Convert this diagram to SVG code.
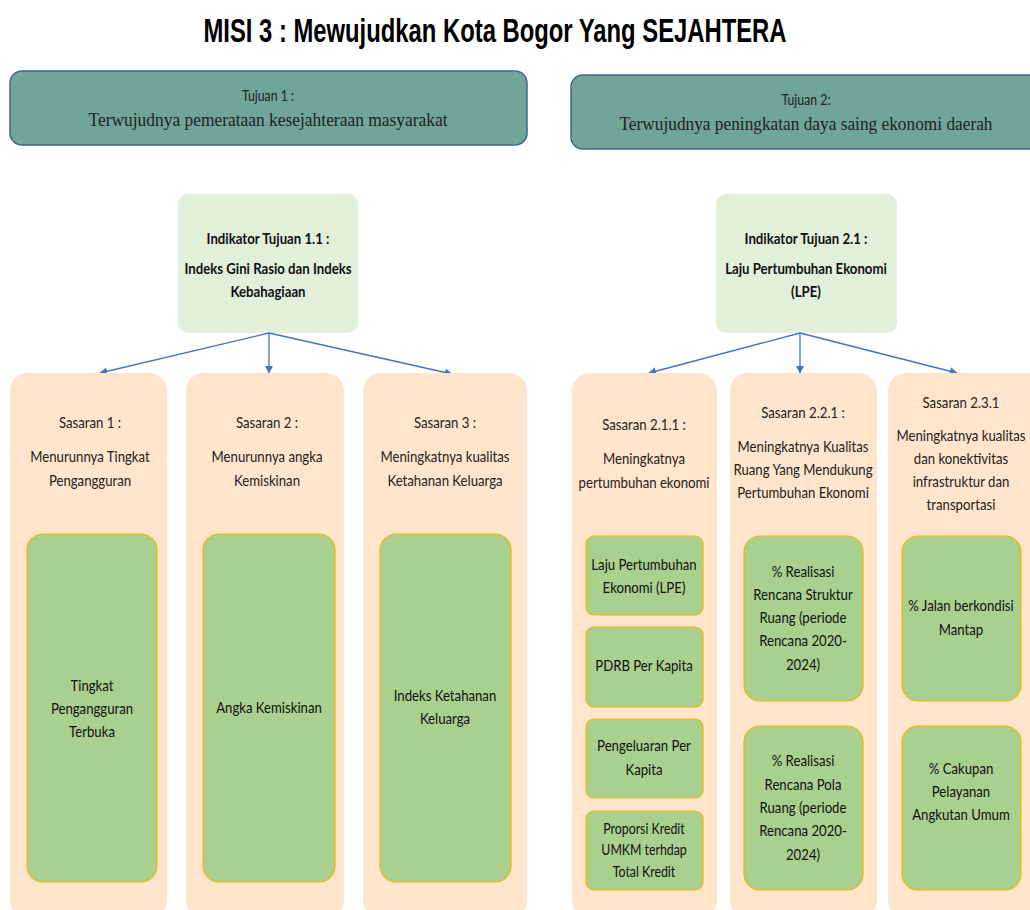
<svg xmlns="http://www.w3.org/2000/svg" width="1030" height="910" viewBox="0 0 1030 910">
  <defs>
    <marker id="arr" viewBox="0 0 10 10" refX="9" refY="5" markerWidth="8" markerHeight="8" orient="auto-start-reverse" markerUnits="userSpaceOnUse">
      <path d="M0,0 L10,5 L0,10 z" fill="#4472c4"/>
    </marker>
    <style>
      .title { font-family: "Liberation Sans", Arial, sans-serif; font-weight: bold; font-size: 33px; fill: #000; }
      .goal { fill: #70a598; stroke: #41648a; stroke-width: 1.5; }
      .goal-h { font-family: "Lato", "Liberation Sans", sans-serif; font-size: 15px; fill: #222; }
      .goal-t { font-family: "Liberation Serif", serif; font-size: 18px; fill: #222; }
      .ind { fill: #e2efd9; }
      .ind-t { font-family: "Lato", "Liberation Sans", sans-serif; font-weight: bold; font-size: 15px; fill: #111; }
      .tgt { fill: #fee5cb; }
      .tgt-t { font-family: "Lato", "Liberation Sans", sans-serif; font-size: 15.5px; fill: #222; }
      .kpi { fill: #a9d08e; stroke: #f2b705; stroke-width: 1.2; }
      .kpi-t { font-family: "Lato", "Liberation Sans", sans-serif; font-size: 15.5px; fill: #111; }
      .conn { stroke: #4472c4; stroke-width: 1.3; fill: none; marker-end: url(#arr); }
      text { text-anchor: middle; }
    </style>
  </defs>

  <rect width="1030" height="910" fill="#ffffff"/>

  <text class="title" x="495" y="42" textLength="583" lengthAdjust="spacingAndGlyphs">MISI 3 : Mewujudkan Kota Bogor Yang SEJAHTERA</text>

  <!-- goals -->
  <g id="tujuan1">
    <rect class="goal" x="10" y="71" width="517" height="74" rx="12"/>
    <g transform="translate(268 0) scale(0.82 1)">
      <text class="goal-h" x="0" y="101">Tujuan 1 :</text>
    </g>
    <text class="goal-t" x="268" y="126" textLength="359" lengthAdjust="spacingAndGlyphs">Terwujudnya pemerataan kesejahteraan masyarakat</text>
  </g>
  <g id="tujuan2">
    <rect class="goal" x="571" y="75" width="480" height="74" rx="12"/>
    <g transform="translate(806 0) scale(0.82 1)">
      <text class="goal-h" x="0" y="105">Tujuan 2:</text>
    </g>
    <text class="goal-t" x="806" y="130" textLength="373" lengthAdjust="spacingAndGlyphs">Terwujudnya peningkatan daya saing ekonomi daerah</text>
  </g>

  <!-- goal indicators -->
  <g id="indikator11">
    <rect class="ind" x="178" y="194" width="180" height="139" rx="10"/>
    <g transform="translate(268 0) scale(0.88 1)">
      <text class="ind-t" x="0" y="244">Indikator Tujuan  1.1 :</text>
      <text class="ind-t" x="0" y="274">Indeks Gini Rasio dan Indeks</text>
      <text class="ind-t" x="0" y="297">Kebahagiaan</text>
    </g>
  </g>
  <g id="indikator21">
    <rect class="ind" x="716" y="194" width="181" height="139" rx="10"/>
    <g transform="translate(806 0) scale(0.88 1)">
      <text class="ind-t" x="0" y="244">Indikator Tujuan  2.1 :</text>
      <text class="ind-t" x="0" y="274">Laju Pertumbuhan Ekonomi</text>
      <text class="ind-t" x="0" y="297">(LPE)</text>
    </g>
  </g>

  <!-- connectors -->
  <g id="connectors">
    <path class="conn" d="M269,333 L100,373"/>
    <path class="conn" d="M269,333 L269,373"/>
    <path class="conn" d="M269,333 L452,374"/>
    <path class="conn" d="M800,333 L649,373"/>
    <path class="conn" d="M800,333 L800,373"/>
    <path class="conn" d="M800,333 L957,373"/>
  </g>

  <!-- targets, goal 1 -->
  <g id="sasaran1">
    <rect class="tgt" x="10" y="373" width="157" height="545" rx="18"/>
    <rect class="kpi" x="27" y="534" width="130" height="348" rx="16"/>
    <g transform="translate(90 0) scale(0.85 1)">
      <text class="tgt-t" x="0" y="428">Sasaran 1 :</text>
      <text class="tgt-t" x="0" y="462">Menurunnya Tingkat</text>
      <text class="tgt-t" x="0" y="486">Pengangguran</text>
    </g>
    <g transform="translate(92 0) scale(0.85 1)">
      <text class="kpi-t" x="0" y="691">Tingkat</text>
      <text class="kpi-t" x="0" y="714">Pengangguran</text>
      <text class="kpi-t" x="0" y="737">Terbuka</text>
    </g>
  </g>
  <g id="sasaran2">
    <rect class="tgt" x="186" y="373" width="158" height="545" rx="18"/>
    <rect class="kpi" x="203" y="534" width="132" height="348" rx="16"/>
    <g transform="translate(267 0) scale(0.85 1)">
      <text class="tgt-t" x="0" y="428">Sasaran 2 :</text>
      <text class="tgt-t" x="0" y="462">Menurunnya angka</text>
      <text class="tgt-t" x="0" y="486">Kemiskinan</text>
    </g>
    <g transform="translate(269 0) scale(0.85 1)">
      <text class="kpi-t" x="0" y="713">Angka Kemiskinan</text>
    </g>
  </g>
  <g id="sasaran3">
    <rect class="tgt" x="363" y="373" width="164" height="545" rx="18"/>
    <rect class="kpi" x="380" y="534" width="131" height="348" rx="16"/>
    <g transform="translate(445 0) scale(0.85 1)">
      <text class="tgt-t" x="0" y="428">Sasaran 3 :</text>
      <text class="tgt-t" x="0" y="462">Meningkatnya kualitas</text>
      <text class="tgt-t" x="0" y="486">Ketahanan Keluarga</text>
    </g>
    <g transform="translate(445 0) scale(0.85 1)">
      <text class="kpi-t" x="0" y="701">Indeks Ketahanan</text>
      <text class="kpi-t" x="0" y="724">Keluarga</text>
    </g>
  </g>

  <!-- targets, goal 2 -->
  <g id="sasaran211">
    <rect class="tgt" x="572" y="373" width="145" height="545" rx="18"/>
    <rect class="kpi" x="586" y="536" width="117" height="79" rx="8"/>
    <rect class="kpi" x="586" y="627" width="117" height="80" rx="8"/>
    <rect class="kpi" x="586" y="719" width="117" height="79" rx="8"/>
    <rect class="kpi" x="586" y="811" width="117" height="79" rx="8"/>
    <g transform="translate(644 0) scale(0.85 1)">
      <text class="tgt-t" x="0" y="430">Sasaran 2.1.1 :</text>
      <text class="tgt-t" x="0" y="464">Meningkatnya</text>
      <text class="tgt-t" x="0" y="488">pertumbuhan ekonomi</text>
      <text class="kpi-t" x="0" y="570">Laju Pertumbuhan</text>
      <text class="kpi-t" x="0" y="593">Ekonomi (LPE)</text>
      <text class="kpi-t" x="0" y="671">PDRB  Per Kapita</text>
      <text class="kpi-t" x="0" y="751">Pengeluaran Per</text>
      <text class="kpi-t" x="0" y="775">Kapita</text>
      <text class="kpi-t" x="0" y="834" style="font-size:14.5px">Proporsi Kredit</text>
      <text class="kpi-t" x="0" y="855" style="font-size:14.5px">UMKM terhdap</text>
      <text class="kpi-t" x="0" y="877" style="font-size:14.5px">Total Kredit</text>
    </g>
  </g>
  <g id="sasaran221">
    <rect class="tgt" x="730" y="373" width="147" height="545" rx="18"/>
    <rect class="kpi" x="744" y="536" width="119" height="165" rx="16"/>
    <rect class="kpi" x="744" y="726" width="119" height="164" rx="16"/>
    <g transform="translate(803 0) scale(0.85 1)">
      <text class="tgt-t" x="0" y="418">Sasaran 2.2.1 :</text>
      <text class="tgt-t" x="0" y="452">Meningkatnya Kualitas</text>
      <text class="tgt-t" x="0" y="475">Ruang Yang Mendukung</text>
      <text class="tgt-t" x="0" y="498">Pertumbuhan Ekonomi</text>
      <text class="kpi-t" x="0" y="577">% Realisasi</text>
      <text class="kpi-t" x="0" y="600">Rencana Struktur</text>
      <text class="kpi-t" x="0" y="623">Ruang (periode</text>
      <text class="kpi-t" x="0" y="646">Rencana 2020-</text>
      <text class="kpi-t" x="0" y="670">2024)</text>
      <text class="kpi-t" x="0" y="766">% Realisasi</text>
      <text class="kpi-t" x="0" y="790">Rencana Pola</text>
      <text class="kpi-t" x="0" y="813">Ruang (periode</text>
      <text class="kpi-t" x="0" y="836">Rencana 2020-</text>
      <text class="kpi-t" x="0" y="860">2024)</text>
    </g>
  </g>
  <g id="sasaran231">
    <rect class="tgt" x="888" y="373" width="160" height="545" rx="18"/>
    <rect class="kpi" x="902" y="536" width="119" height="165" rx="16"/>
    <rect class="kpi" x="902" y="726" width="119" height="164" rx="16"/>
    <g transform="translate(961 0) scale(0.85 1)">
      <text class="tgt-t" x="0" y="408">Sasaran 2.3.1</text>
      <text class="tgt-t" x="0" y="441">Meningkatnya kualitas</text>
      <text class="tgt-t" x="0" y="464">dan konektivitas</text>
      <text class="tgt-t" x="0" y="487">infrastruktur dan</text>
      <text class="tgt-t" x="0" y="510">transportasi</text>
      <text class="kpi-t" x="0" y="611">% Jalan berkondisi</text>
      <text class="kpi-t" x="0" y="635">Mantap</text>
      <text class="kpi-t" x="0" y="774">% Cakupan</text>
      <text class="kpi-t" x="0" y="797">Pelayanan</text>
      <text class="kpi-t" x="0" y="820">Angkutan Umum</text>
    </g>
  </g>
</svg>
